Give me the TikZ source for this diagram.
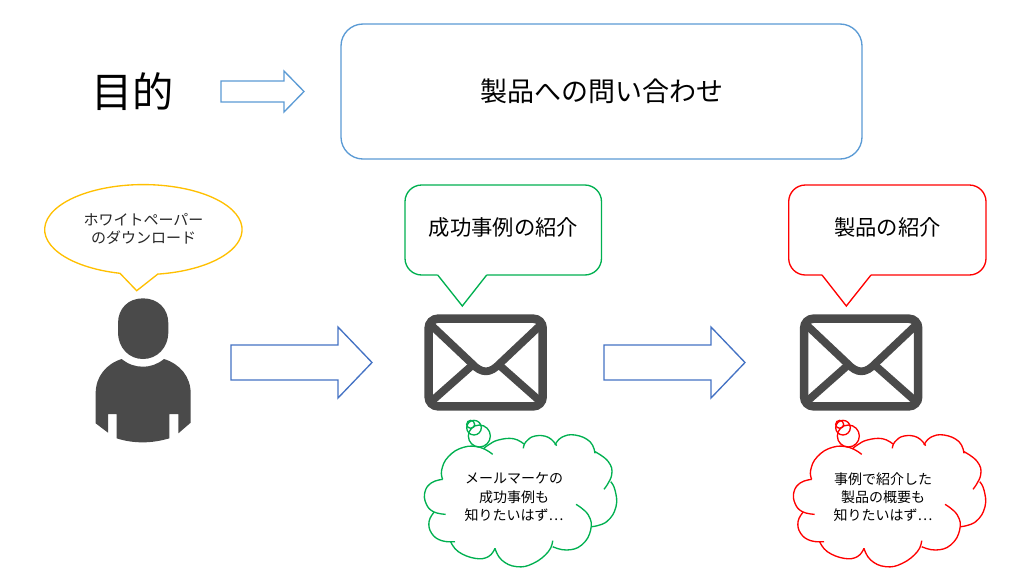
\documentclass[tikz,border=0pt]{standalone}
\usepackage{fontspec}
\setmainfont{Noto Sans CJK JP}
\newcommand{\fpx}[2]{\fontsize{#1}{#2}\selectfont}
\definecolor{topblue}{HTML}{5B9BD5}
\definecolor{lowblue}{HTML}{4472C4}
\definecolor{sunny}{HTML}{FFC000}
\definecolor{leaf}{HTML}{00B050}
\definecolor{iconink}{HTML}{4A4A4A}
\tikzset{
  lab/.style={align=center,inner sep=0pt,text=black},
  blockarrow/.style={draw=#1,line width=1pt,fill=white,line join=miter},
  callout/.style={draw=#1,line width=1pt,line join=miter},
  lobe/.style={draw=#1,line width=1pt},
}
\newcommand{\envelope}[1]{%
  \begin{scope}[shift={(#1,300)},x=0.25pt,y=-0.25pt]
    \draw[iconink,line width=6.4pt,rounded corners=7pt] (86,56) rectangle (428,319);
    \begin{scope}
      \clip (80,50) rectangle (434,325);
      \draw[iconink,line width=5.8pt,line join=round] (90,72) -- (215,190) .. controls (245,222) and (270,222) .. (300,190) -- (425,72);
      \draw[iconink,line width=5.8pt] (90,308) -- (212,200);
      \draw[iconink,line width=5.8pt] (425,308) -- (303,200);
    \end{scope}
  \end{scope}}
\newcommand{\thoughtcloud}[2]{%
  \begin{scope}[shift={(#1,300)},x=0.25pt,y=-0.25pt,smooth,tension=0.75]
    \draw[lobe=#2] plot coordinates {(278,463) (240,442) (190,442) (145,470) (125,510) (128,538)};
    \draw[lobe=#2] plot coordinates {(128,538) (95,548) (75,575) (78,610) (100,635) (137,643)};
    \draw[lobe=#2] plot coordinates {(102,637) (87,665) (95,700) (125,722) (165,725)};
    \draw[lobe=#2] plot coordinates {(152,725) (175,755) (225,775) (265,770) (285,745)};
    \draw[lobe=#2] plot coordinates {(285,745) (305,780) (350,800) (400,790) (445,755) (458,722)};
    \draw[lobe=#2] plot coordinates {(458,740) (500,750) (545,735) (572,690) (565,645) (528,613)};
    \draw[lobe=#2] plot coordinates {(575,680) (620,665) (648,620) (645,570) (632,545)};
    \draw[lobe=#2] plot coordinates {(612,568) (635,525) (625,485) (585,455)};
    \draw[lobe=#2] plot coordinates {(585,460) (570,425) (525,405) (485,412) (465,435)};
    \draw[lobe=#2] plot coordinates {(470,437) (445,412) (405,408) (378,425) (370,445)};
    \draw[lobe=#2] plot coordinates {(372,432) (340,416) (295,420) (265,435) (250,447)};
    \draw[lobe=#2] (238,408) circle[radius=8.25pt];
    \draw[lobe=#2] (222,383) circle[radius=5.5pt];
    \draw[lobe=#2] (212,373) circle[radius=3pt];
  \end{scope}}
\begin{document}
\begin{tikzpicture}[x=0.75pt,y=-0.75pt]
\useasboundingbox (0,0) rectangle (1024,576);
\fill[white] (0,0) rectangle (1024,576);
% top row
\node[lab,font=\fpx{31pt}{36pt}] (goal) at (132.5,92) {目的};
\draw[blockarrow=topblue] (221,81) -- (284,81) -- (284,71) -- (304,91.5) -- (284,112) -- (284,102) -- (221,102) -- cycle;
\node[draw=topblue,line width=1pt,rounded corners=16.5pt,minimum width=390.75pt,minimum height=101.25pt,lab,font=\fpx{20.25pt}{24pt}] (inquiry) at (601.5,91.5) {\raisebox{-0.7pt}{製品への問い合わせ}};
% callouts
\draw[callout=sunny] (120,273.3) arc[start angle=103.7,end angle=441.6,x radius=98.7,y radius=45] -- (136.7,290.7) -- cycle;
\node[lab,font=\fpx{11.25pt}{13.5pt},text=black!85] (wp) at (143.5,228.5) {ホワイトペーパー\\のダウンロード};
\draw[callout=leaf] (437.7,275) -- (462.3,306) -- (486.7,275);
\draw[callout=leaf,rounded corners=12.5pt] (486.7,275) -- (601.5,275) -- (601.5,185) -- (405,185) -- (405,275) -- (437.7,275);
\node[lab,font=\fpx{16pt}{20pt}] (case) at (503.5,227) {成功事例の紹介};
\draw[callout=red] (822,275) -- (846.3,306) -- (871,275);
\draw[callout=red,rounded corners=12.5pt] (871,275) -- (986,275) -- (986,185) -- (788.7,185) -- (788.7,275) -- (822,275);
\node[lab,font=\fpx{16pt}{20pt}] (prod) at (887.5,227) {製品の紹介};
% person
\begin{scope}[shift={(20,180)},x=0.25pt,y=-0.25pt]
  \fill[iconink] (294,430) .. controls (294,385) and (325,355) .. (369,355) .. controls (413,355) and (445,385) .. (445,430) -- (445,455) .. controls (445,505) and (410,537) .. (369,537) .. controls (328,537) and (294,505) .. (294,455) -- cycle;
  \fill[iconink] (305,537) .. controls (325,553) and (345,560) .. (368,560) .. controls (392,560) and (412,553) .. (432,537) .. controls (480,552) and (512,590) .. (512,640) -- (512,728) -- (475,760) -- (475,702) -- (448,702) -- (448,775) .. controls (420,783) and (395,787) .. (368,787) .. controls (340,787) and (315,783) .. (290,775) -- (290,702) -- (264,702) -- (264,758) -- (227,730) -- (227,640) .. controls (227,590) and (258,552) .. (305,537) -- cycle;
\end{scope}
% arrows
\draw[blockarrow=lowblue] (231,345) -- (338,345) -- (338,327) -- (372,362.5) -- (338,398) -- (338,380) -- (231,380) -- cycle;
\draw[blockarrow=lowblue] (604,345) -- (711,345) -- (711,327) -- (745,362.5) -- (711,398) -- (711,380) -- (604,380) -- cycle;
\envelope{400}
\envelope{775.5}
\thoughtcloud{400}{leaf}
\thoughtcloud{769}{red}
\node[lab,font=\fpx{10.5pt}{13.7pt}] (mail) at (514,497) {メールマーケの\\成功事例も\\知りたいはず…};
\node[lab,font=\fpx{10.5pt}{13.7pt}] (think) at (883,497) {事例で紹介した\\製品の概要も\\知りたいはず…};
\end{tikzpicture}
\end{document}
